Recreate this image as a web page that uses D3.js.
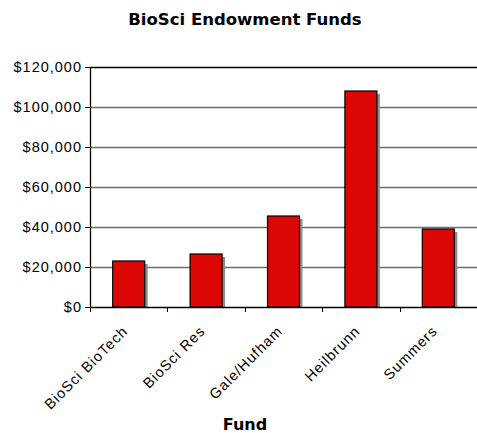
<!DOCTYPE html>
<meta charset="utf-8">
<html>
<head>
<style>
  body { margin: 0; background: #fff; }
  svg { display: block; }
</style>
</head>
<body>
<div id="chart"></div>
<script src="https://d3js.org/d3.v7.min.js"></script>
<script>
// fund names and endowment values
var funds = ["BioSci BioTech", "BioSci Res", "Gale/Hufham", "Heilbrunn", "Summers"]
var values = [23000, 26500, 45500, 108000, 39000]
var yTicks = [0, 20000, 40000, 60000, 80000, 100000, 120000]

var margin = {top: 67, right: 0, bottom: 126, left: 90},
    width = 477 - margin.left - margin.right,
    height = 433 - margin.top - margin.bottom

var svg = d3.select("#chart").append("svg")
    .attr("width", 477)
    .attr("height", 433)

svg.append("text")
  .attr("x", 245)
  .attr("y", 25)
  .attr("text-anchor", "middle")
  .style("font-family", "Verdana, 'DejaVu Sans', sans-serif")
  .style("font-weight", "bold")
  .style("font-size", "16.5px")
  .text("BioSci Endowment Funds")

var g = svg.append("g")
  .attr("transform", "translate(" + margin.left + "," + margin.top + ")")

var x = d3.scaleBand().domain(funds).range([0, width])
var y = d3.scaleLinear().domain([0, 120000]).range([height, 0])

// gridlines
g.selectAll(".grid")
  .data(yTicks.slice(1))
  .enter().append("line")
    .attr("x1", 0).attr("x2", width)
    .attr("y1", function(d) { return Math.round(y(d)) + 0.5 })
    .attr("y2", function(d) { return Math.round(y(d)) + 0.5 })
    .style("stroke", function(d) { return d === 120000 ? "#000" : "#6e6e6e" })
    .style("stroke-width", 1.3)

// y axis
var yAxis = g.append("g")
  .call(d3.axisLeft(y).tickValues(yTicks).tickSize(5).tickPadding(3)
    .tickFormat(function(d) { return "$" + d3.format(",")(d) }))
yAxis.selectAll("text")
  .style("font-family", "'Liberation Sans', Arial, sans-serif")
  .style("font-size", "14.5px")
  .style("letter-spacing", "1px")
  .style("fill", "#000")
yAxis.select(".domain").remove()

// bars: shadow then bar
var bw = 32
g.selectAll(".shadow")
  .data(values)
  .enter().append("rect")
    .attr("x", function(d, i) { return x(funds[i]) + x.bandwidth() / 2 - bw / 2 + 3 })
    .attr("y", function(d) { return y(d) + 3 })
    .attr("width", bw)
    .attr("height", function(d) { return height - y(d) - 3 })
    .style("fill", "#8c8c8c")

g.selectAll(".bar")
  .data(values)
  .enter().append("rect")
    .attr("x", function(d, i) { return x(funds[i]) + x.bandwidth() / 2 - bw / 2 })
    .attr("y", function(d) { return y(d) })
    .attr("width", bw)
    .attr("height", function(d) { return height - y(d) })
    .style("fill", "#dd0806")
    .style("stroke", "#000")
    .style("stroke-width", 1.2)

// x axis with ticks at band edges
var xAxis = g.append("g").attr("transform", "translate(0," + height + ")")
xAxis.append("line")
  .attr("x1", 0).attr("x2", width)
  .attr("y1", 0.5).attr("y2", 0.5)
  .style("stroke", "#000")
  .style("stroke-width", 1.3)
xAxis.selectAll(".tick")
  .data(funds)
  .enter().append("line")
    .attr("x1", function(d) { return Math.round(x(d)) + 0.5 })
    .attr("x2", function(d) { return Math.round(x(d)) + 0.5 })
    .attr("y1", 0).attr("y2", 5)
    .style("stroke", "#000")
g.append("line")
  .attr("x1", 0.5).attr("x2", 0.5)
  .attr("y1", 0).attr("y2", height)
  .style("stroke", "#000")
  .style("stroke-width", 1.3)

xAxis.selectAll(".lbl")
  .data(funds)
  .enter().append("text")
    .attr("text-anchor", "end")
    .attr("transform", function(d) {
      return "translate(" + (x(d) + x.bandwidth() / 2) + ",25) rotate(-45)"
    })
    .style("font-family", "'Liberation Sans', Arial, sans-serif")
    .style("font-size", "14.5px")
    .style("letter-spacing", "1px")
    .text(function(d) { return d })

svg.append("text")
  .attr("x", 245)
  .attr("y", 430)
  .attr("text-anchor", "middle")
  .style("font-family", "Verdana, 'DejaVu Sans', sans-serif")
  .style("font-weight", "bold")
  .style("font-size", "16px")
  .text("Fund")
</script>
</body>
</html>
